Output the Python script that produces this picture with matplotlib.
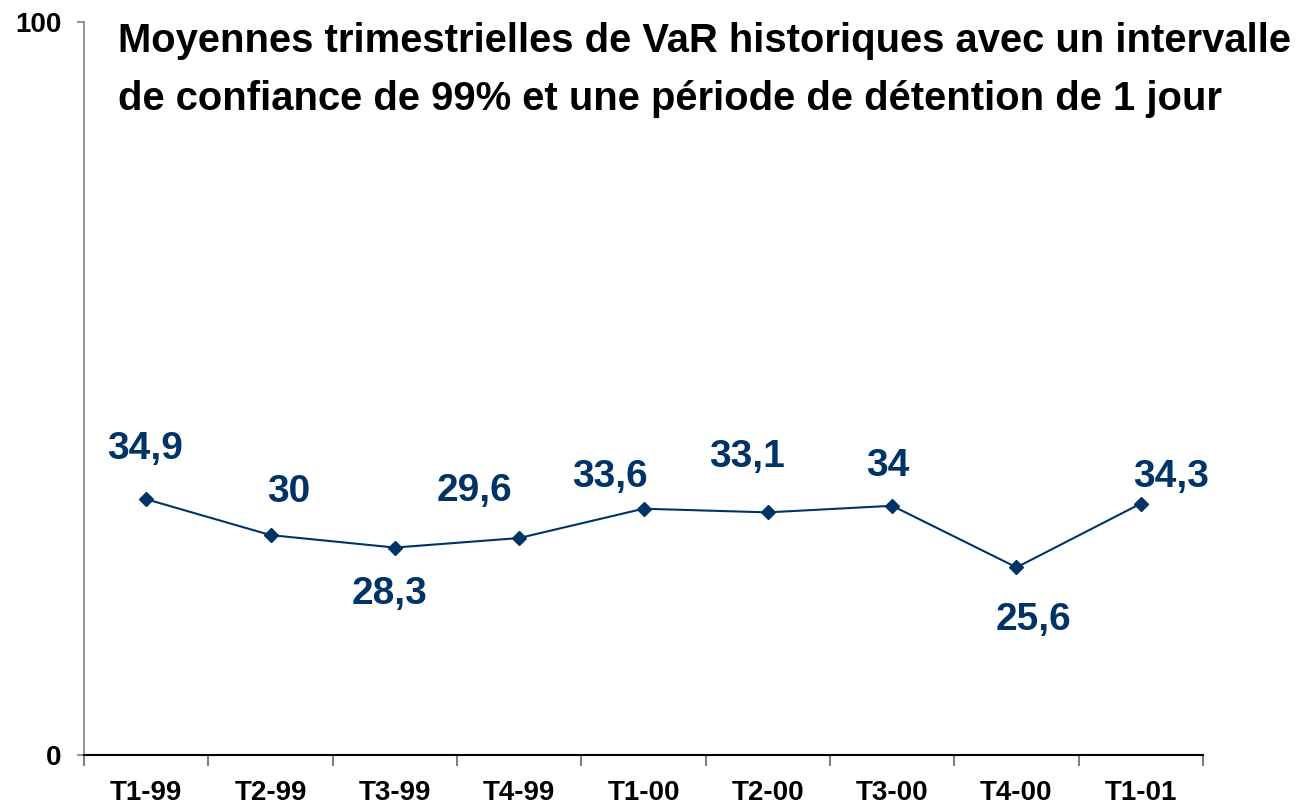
import matplotlib.pyplot as plt
import numpy as np

plt.rcParams['font.family'] = ['Liberation Sans', 'DejaVu Sans']

quarters = ["T1-99", "T2-99", "T3-99", "T4-99", "T1-00", "T2-00", "T3-00", "T4-00", "T1-01"]
var_values = [34.9, 30.0, 28.3, 29.6, 33.6, 33.1, 34.0, 25.6, 34.3]
value_labels = ["34,9", "30", "28,3", "29,6", "33,6", "33,1", "34", "25,6", "34,3"]
# label offsets in pixels from the marker
label_offsets = [(-1, 50), (18, 43), (-5, -46), (-45, 47), (-34, 32),
                 (-21, 55), (-4, 40), (17, -53), (30, 27)]

navy = "#003366"

fig = plt.figure(figsize=(13.01, 8.05), dpi=100)
ax = fig.add_axes([84/1301, 1 - 755/805, (1203 - 84)/1301, (755 - 22)/805])

x = np.arange(len(quarters))
ax.plot(x, var_values, color=navy, linewidth=1.5, marker="D", markersize=7)

for xi, v, lab, off in zip(x, var_values, value_labels, label_offsets):
    ax.annotate(lab, (xi, v), xytext=off, textcoords="offset pixels",
                ha="center", va="center", fontsize=28, fontweight="bold", color=navy)

ax.set_xlim(-0.5, len(quarters) - 0.5)
ax.set_ylim(0, 100)
ax.set_yticks([0, 100])
ax.set_yticklabels(["0", "100"], fontsize=20, fontweight="bold")
ax.set_xticks(x)
ax.set_xticklabels(quarters, fontsize=20, fontweight="bold")
ax.tick_params(axis="x", which="major", length=0, pad=18)
ax.set_xticks(np.arange(len(quarters) + 1) - 0.5, minor=True)
ax.tick_params(axis="x", which="minor", length=8, width=1.5, color="#808080")
ax.tick_params(axis="y", length=5, width=1.2, color="#808080", pad=11)

for s in ["top", "right"]:
    ax.spines[s].set_visible(False)
ax.spines["left"].set_color("#808080")
ax.spines["left"].set_linewidth(1.2)
ax.spines["bottom"].set_color("black")
ax.spines["bottom"].set_linewidth(1.5)

fig.text(118/1301, 1 - 52/805, "Moyennes trimestrielles de VaR historiques avec un intervalle",
         fontsize=28.8, fontweight="bold", va="baseline", ha="left")
fig.text(118/1301, 1 - 110/805, "de confiance de 99% et une période de détention de 1 jour",
         fontsize=28.8, fontweight="bold", va="baseline", ha="left")

fig.savefig("out.png", dpi=100)
